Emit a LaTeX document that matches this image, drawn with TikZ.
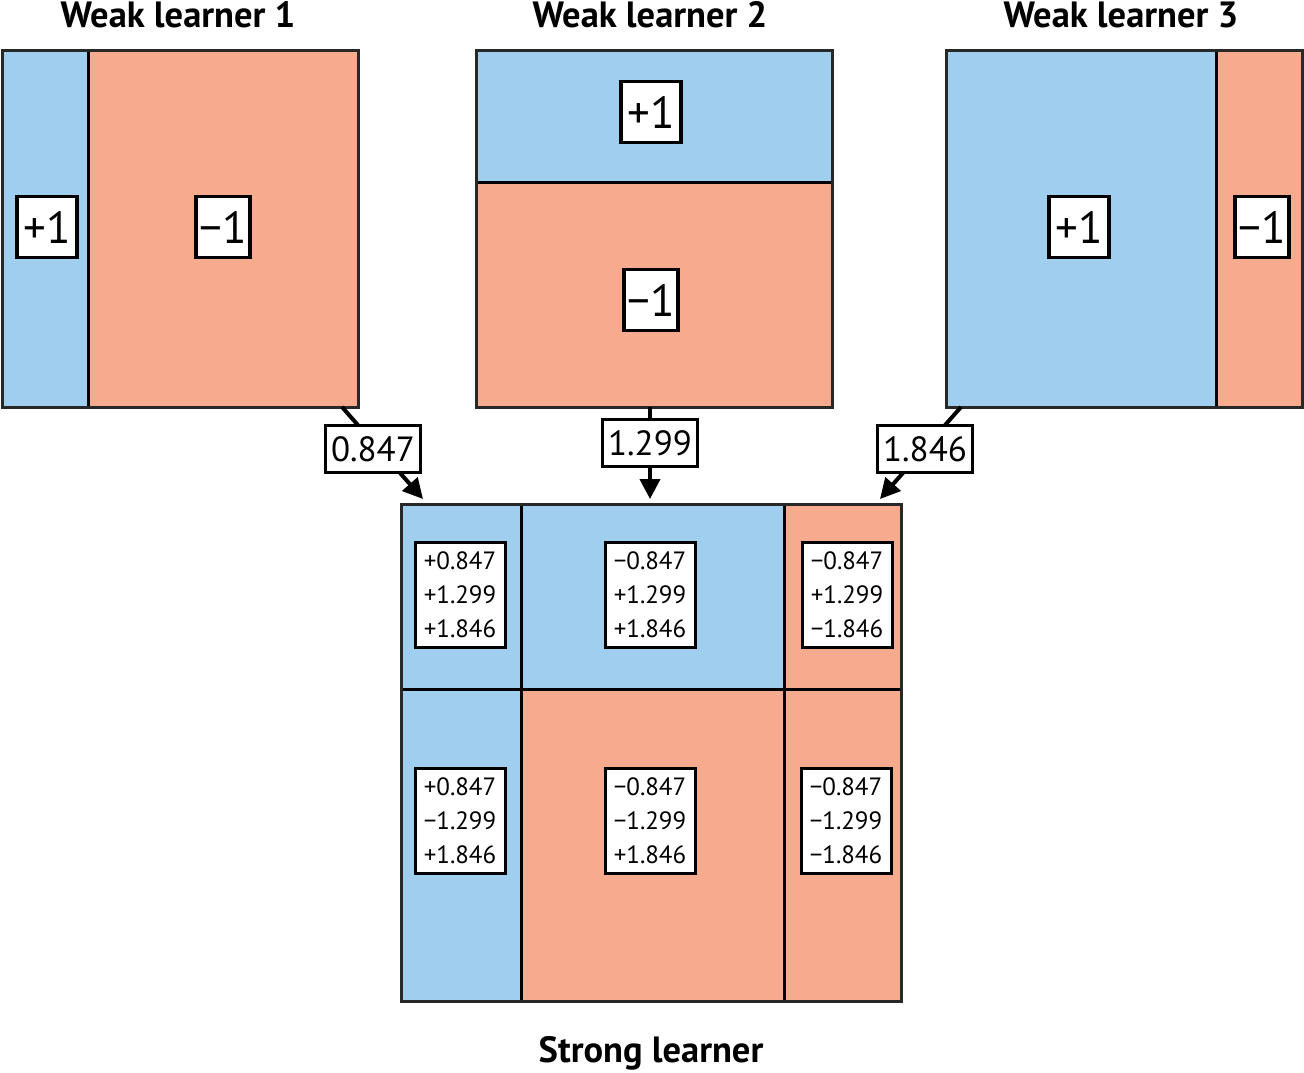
\documentclass[tikz,border=0pt]{standalone}
\usepackage{fontspec}
\setmainfont{PT Sans}
\usetikzlibrary{arrows.meta}
\definecolor{posblue}{RGB}{160,206,239}
\definecolor{negred}{RGB}{246,170,142}
\definecolor{framegray}{RGB}{40,40,40}
\begin{document}
\begin{tikzpicture}[x=1pt,y=-1pt,
  panel/.style={draw=framegray, line width=3pt, inner sep=0pt},
  divider/.style={draw=black, line width=3pt},
  sign/.style={draw=black, fill=white, line width=3.5pt, font=\fontsize{45}{45}\selectfont, inner sep=0pt, minimum height=61pt},
  weight/.style={draw=black, fill=white, line width=3.5pt, font=\fontsize{35}{35}\selectfont, inner sep=0pt, minimum width=95pt, minimum height=47pt},
  sumbox/.style={draw=black, fill=white, line width=3pt, font=\fontsize{25}{34}\selectfont, align=right, inner sep=0pt, minimum width=90pt, minimum height=105pt},
  title/.style={font=\bfseries\fontsize{36.5}{36.5}\selectfont, anchor=base},
  conn/.style={line width=4pt, -{Triangle[length=20pt,width=20pt]}}
]
\useasboundingbox (0,0) rectangle (1304,1072);

% ---- Weak learner 1
\fill[posblue] (2,50) rectangle (88,407);
\fill[negred] (88,50) rectangle (358,407);
\draw[divider] (88,50) -- (88,407);
\node[panel, minimum width=356pt, minimum height=357pt] (w1) at (180,228.5) {};
\node[title] (t1) at (178,27) {Weak learner 1};
\node[sign, minimum width=60pt] (w1p) at (47,227) {+1};
\node[sign, minimum width=54pt] (w1n) at (223,227) {−1};

% ---- Weak learner 2
\fill[posblue] (476,50) rectangle (832,182);
\fill[negred] (476,182) rectangle (832,407);
\draw[divider] (476,182) -- (832,182);
\node[panel, minimum width=356pt, minimum height=357pt] (w2) at (654,228.5) {};
\node[title] (t2) at (650,27) {Weak learner 2};
\node[sign, minimum width=60pt] (w2p) at (651,112) {+1};
\node[sign, minimum width=54pt] (w2n) at (651,300) {−1};

% ---- Weak learner 3
\fill[posblue] (946,50) rectangle (1216,407);
\fill[negred] (1216,50) rectangle (1302,407);
\draw[divider] (1216,50) -- (1216,407);
\node[panel, minimum width=356pt, minimum height=357pt] (w3) at (1124,228.5) {};
\node[title] (t3) at (1121,27) {Weak learner 3};
\node[sign, minimum width=60pt] (w3p) at (1079,227) {+1};
\node[sign, minimum width=54pt] (w3n) at (1262,227) {−1};

% ---- Strong learner
\fill[posblue] (401,504) rectangle (784,689);
\fill[negred] (784,504) rectangle (901,689);
\fill[posblue] (401,689) rectangle (521,1001);
\fill[negred] (521,689) rectangle (901,1001);
\draw[divider] (401,689) -- (901,689);
\draw[divider] (521,504) -- (521,1001);
\draw[divider] (784,504) -- (784,1001);
\node[panel, minimum width=500pt, minimum height=497pt] (s) at (651,752.5) {};
\node[title] (ts) at (651,1062) {Strong learner};

\node[sumbox] (s11) at (460,595) {+0.847\\+1.299\\+1.846};
\node[sumbox] (s12) at (650,595) {−0.847\\+1.299\\+1.846};
\node[sumbox] (s13) at (847,595) {−0.847\\+1.299\\−1.846};
\node[sumbox] (s21) at (460,821) {+0.847\\−1.299\\+1.846};
\node[sumbox] (s22) at (650,821) {−0.847\\−1.299\\+1.846};
\node[sumbox] (s23) at (846,821) {−0.847\\−1.299\\−1.846};

% ---- Connectors
\coordinate (a1s) at (342,407);
\coordinate (a1e) at (423,499);
\coordinate (a2s) at (650,407);
\coordinate (a2e) at (650,499);
\coordinate (a3s) at (961,407);
\coordinate (a3e) at (880,499);
\draw[conn] (a1s) -- (a1e);
\draw[conn] (a2s) -- (a2e);
\draw[conn] (a3s) -- (a3e);
\node[weight] (c1) at (373,449) {0.847};
\node[weight] (c2) at (650,443) {1.299};
\node[weight] (c3) at (925,449) {1.846};
\end{tikzpicture}
\end{document}
